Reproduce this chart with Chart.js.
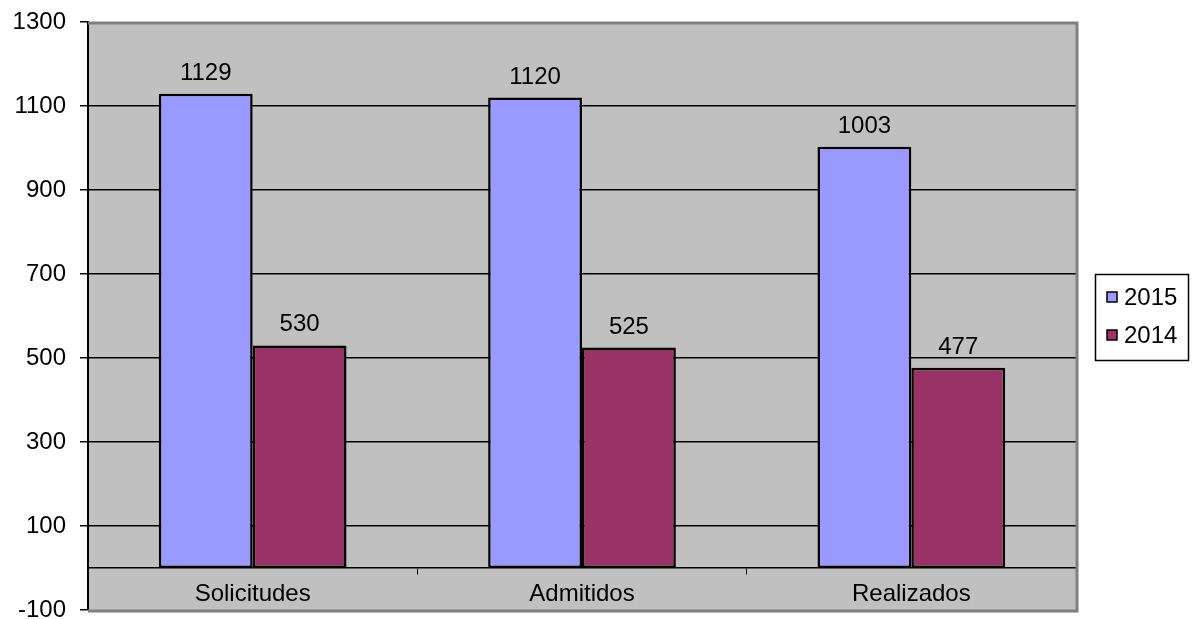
<!DOCTYPE html>
<html>
<head>
<meta charset="utf-8">
<script src="https://cdn.jsdelivr.net/npm/chart.js@4"></script>
<style>
  html, body { margin: 0; padding: 0; background: #fff; }
  #wrap { width: 1196px; height: 619px; position: relative; }
</style>
</head>
<body>
<div id="wrap"><canvas id="barChart"></canvas></div>
<script>
const categories = ['Solicitudes', 'Admitidos', 'Realizados'];
const years = ['2015', '2014'];
const values2015 = [1129, 1120, 1003];
const values2014 = [530, 525, 477];
const yMin = -100;
const yMax = 1300;
const yStep = 200;

const FONT = 'Liberation Sans, Arial, sans-serif';
const FSIZE = 24;

// gray plot area + gray frame (excel style)
const plotArea = {
    id: 'plotArea',
    beforeDraw(chart) {
        const { ctx, chartArea: a } = chart;
        ctx.save();
        ctx.fillStyle = '#C0C0C0';
        ctx.fillRect(a.left, a.top, a.right - a.left, a.bottom - a.top);
        ctx.restore();
    },
    afterDraw(chart) {
        const { ctx, chartArea: a } = chart;
        ctx.save();
        ctx.strokeStyle = '#808080';
        ctx.lineWidth = 3;
        ctx.beginPath();
        ctx.moveTo(a.left, a.top + 1);
        ctx.lineTo(a.right + 1, a.top + 1);
        ctx.lineTo(a.right + 1, a.bottom + 1);
        ctx.lineTo(a.left, a.bottom + 1);
        ctx.stroke();
        ctx.restore();
    }
};

const valueLabels = {
    id: 'valueLabels',
    afterDatasetsDraw(chart) {
        const { ctx } = chart;
        ctx.save();
        ctx.font = FSIZE + 'px ' + FONT;
        ctx.fillStyle = '#000';
        ctx.textAlign = 'center';
        ctx.textBaseline = 'alphabetic';
        chart.data.datasets.forEach((ds, i) => {
            chart.getDatasetMeta(i).data.forEach((bar, j) => {
                ctx.fillText(String(ds.data[j]), bar.x, bar.y - 14);
            });
        });
        ctx.restore();
    }
};

const boxLegend = {
    id: 'boxLegend',
    afterDraw(chart) {
        const { ctx, chartArea: a } = chart;
        const x = a.right + 19, w = 93, h = 86;
        const y = (a.top + a.bottom) / 2 - h / 2 + 1;
        ctx.save();
        ctx.fillStyle = '#fff';
        ctx.fillRect(x, y, w, h);
        ctx.strokeStyle = '#000';
        ctx.lineWidth = 1.5;
        ctx.strokeRect(x + 0.5, y + 0.5, w, h);
        ctx.font = FSIZE + 'px ' + FONT;
        ctx.textBaseline = 'middle';
        chart.data.datasets.forEach((ds, i) => {
            const cy = y + 23 + i * 38;
            ctx.fillStyle = ds.backgroundColor;
            ctx.fillRect(x + 12, cy - 5, 10, 10);
            ctx.strokeStyle = '#000';
            ctx.lineWidth = 1.5;
            ctx.strokeRect(x + 12, cy - 5, 10, 10);
            ctx.fillStyle = '#000';
            ctx.fillText(ds.label, x + 29, cy + 1);
        });
        ctx.restore();
    }
};

new Chart(document.getElementById('barChart').getContext('2d'), {
    type: 'bar',
    data: {
        labels: categories,
        datasets: [{
            label: years[0],
            data: values2015,
            backgroundColor: '#9999FF',
            borderColor: '#000',
            borderWidth: 2.5,
            borderSkipped: false
        }, {
            label: years[1],
            data: values2014,
            backgroundColor: '#993366',
            borderColor: '#000',
            borderWidth: 2.5,
            borderSkipped: false
        }]
    },
    options: {
        responsive: true,
        maintainAspectRatio: false,
        animation: false,
        categoryPercentage: 0.57,
        barPercentage: 1,
        layout: { padding: { left: 0, top: 22, right: 120, bottom: 9 } },
        plugins: {
            legend: { display: false },
            tooltip: { enabled: false }
        },
        scales: {
            x: {
                position: { y: 0 },
                afterFit: (s) => { s.height = 0; },
                grid: {
                    drawOnChartArea: false,
                    drawTicks: true,
                    tickLength: 6,
                    color: '#000',
                    offset: true
                },
                border: { color: '#000', width: 1.5 },
                ticks: {
                    color: '#000',
                    padding: 6,
                    font: { family: FONT, size: FSIZE }
                }
            },
            y: {
                min: yMin,
                max: yMax,
                afterFit: (s) => {
                    s.width = 88;
                    s.paddingTop = 0;
                    s.paddingBottom = 0;
                },
                ticks: {
                    stepSize: yStep,
                    color: '#000',
                    padding: 14,
                    font: { family: FONT, size: FSIZE },
                    callback: (v) => String(v)
                },
                grid: {
                    color: (c) => (c.tick && (c.tick.value === yMin || c.tick.value === yMax)) ? 'rgba(0,0,0,0)' : '#000',
                    tickColor: '#000',
                    tickLength: 8,
                    lineWidth: 1.5
                },
                border: { color: '#000', width: 2 }
            }
        }
    },
    plugins: [plotArea, valueLabels, boxLegend]
});
</script>
</body>
</html>
